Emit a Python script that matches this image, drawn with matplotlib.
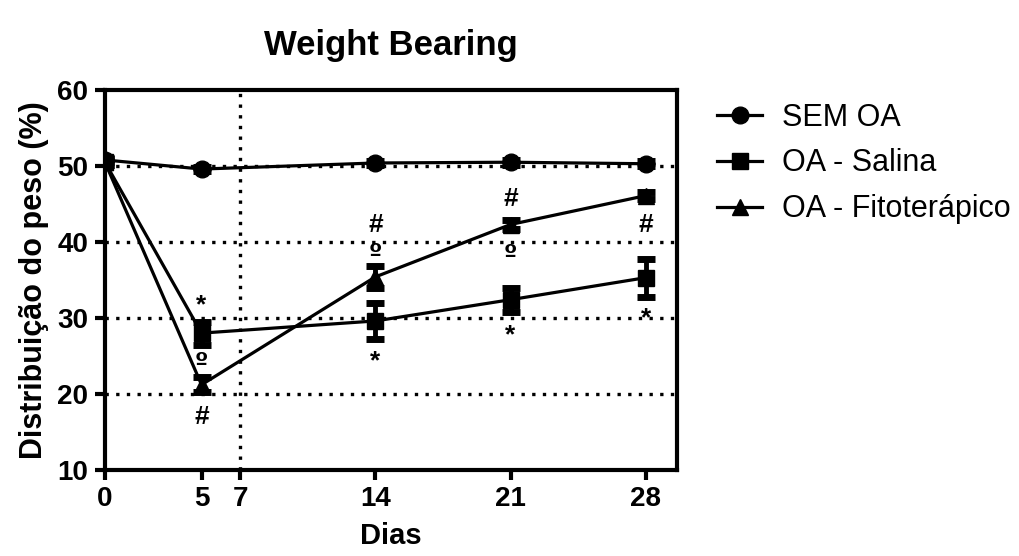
import numpy as np
import matplotlib.pyplot as plt

plt.rcParams['font.family'] = ['Liberation Sans', 'DejaVu Sans']

dias = [0, 5, 14, 21, 28]
sem_oa = [50.8, 49.6, 50.4, 50.5, 50.3]
sem_oa_err = [0.3, 0.3, 0.3, 0.3, 0.3]
salina = [50.5, 28.0, 29.6, 32.4, 35.3]
salina_err = [0.4, 1.5, 2.4, 1.6, 2.5]
fito = [50.5, 21.2, 35.4, 42.3, 46.1]
fito_err = [0.4, 1.0, 1.4, 0.6, 0.5]

xticks = [0, 5, 7, 14, 21, 28]
yticks = [10, 20, 30, 40, 50, 60]
grid_y = [20, 30, 40, 50]
marco_x = 7

# (x, y, text) significance marks
marcas = [
    (5, 31.6, '*'), (5, 24.2, 'º'), (5, 16.9, '#'),
    (14, 42.3, '#'), (14, 38.6, 'º'), (14, 24.3, '*'),
    (21, 45.6, '#'), (21, 38.4, 'º'), (21, 27.7, '*'),
    (28, 42.3, '#'), (28, 29.9, '*'),
]

fig = plt.figure(figsize=(10.19, 5.56), dpi=100)
ax = fig.add_axes([0.103, 0.155, 0.561, 0.683])

for gy in grid_y:
    ax.axhline(gy, color='black', lw=2.4, ls=(0, (1, 2.2)), zorder=1)
ax.axvline(marco_x, color='black', lw=2.4, ls=(0, (1, 2.2)), zorder=1)

kw = dict(color='black', lw=2.3, capsize=6.5, capthick=5, elinewidth=3.5, zorder=3)
ax.errorbar(dias, sem_oa, yerr=sem_oa_err, marker='o', ms=12, label='SEM OA', **kw)
ax.errorbar(dias, salina, yerr=salina_err, marker='s', ms=11, label='OA - Salina', **kw)
ax.errorbar(dias, fito, yerr=fito_err, marker='^', ms=12, label='OA - Fitoterápico', **kw)

for x, y, t in marcas:
    if t == 'º':
        ax.text(x, y, t, ha='center', va='center', fontsize=17, fontweight='bold',
                family='DejaVu Sans', zorder=4)
    else:
        ax.text(x, y, t, ha='center', va='center', fontsize=19, fontweight='bold', zorder=4)

ax.set_xlim(0, 29.6)
ax.set_ylim(10, 60)
ax.set_xticks(xticks)
ax.set_yticks(yticks)
for s in ax.spines.values():
    s.set_linewidth(3)
ax.tick_params(width=3, length=7, labelsize=20, direction='out', pad=5)
for lab in ax.get_xticklabels() + ax.get_yticklabels():
    lab.set_fontweight('bold')

ax.set_title('Weight Bearing', fontsize=25, fontweight='bold', pad=25)
ax.set_xlabel('Dias', fontsize=21, fontweight='bold', labelpad=7)
ax.set_ylabel('Distribuição do peso (%)', fontsize=22, fontweight='bold', labelpad=6)

h, l = ax.get_legend_handles_labels()
h = [hh[0] for hh in h]
fig.legend(h, l, loc='upper left', bbox_to_anchor=(0.677, 0.865), frameon=False,
           fontsize=22, handlelength=1.45, labelspacing=0.52, handletextpad=0.65)

fig.savefig('out.png', dpi=100)
